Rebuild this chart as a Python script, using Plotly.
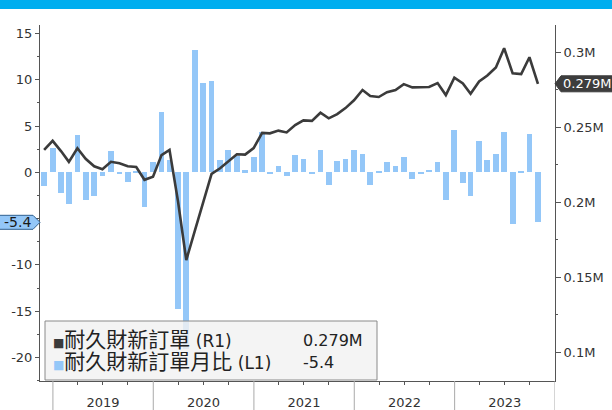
import pandas as pd
import plotly.graph_objects as go

# ---------------- data ----------------
start_month = "2018-11-01"
n_months = 60
months = pd.date_range(start_month, periods=n_months, freq="MS") + pd.offsets.MonthEnd(0)

# 耐久財新訂單月比 (%), Nov-2018 .. Oct-2023
mom_pct = [-1.5, 2.6,
           -2.2, -3.4, 4.0, -3.0, -2.6, -0.4, 2.3, -0.2, -1.0, 0.1, -3.7, 1.1,
           6.5, 1.3, -14.8, -19.1, 13.2, 9.6, 9.9, 1.3, 2.4, 1.8, 0.2, 1.7,
           4.3, -0.1, 0.7, -0.4, 1.9, 1.4, -0.1, 2.4, -1.4, 1.2, 1.4, 2.4,
           2.0, -1.4, 0.1, 1.1, 0.7, 1.7, -0.7, -0.1, 0.3, 1.1, -3.0, 4.6,
           -1.2, -2.6, 3.4, 1.3, 2.0, 4.4, -5.6, 0.1, 4.1, -5.4]

# 耐久財新訂單 (millions, shown as "M")
orders_m = [0.235, 0.241,
            0.234, 0.227, 0.236, 0.229, 0.224, 0.222, 0.227, 0.226, 0.224, 0.2235, 0.215, 0.217,
            0.2315, 0.235, 0.2005, 0.1615, 0.181, 0.200, 0.219, 0.2227, 0.2276, 0.232, 0.2318, 0.2362,
            0.2463, 0.246, 0.2478, 0.2466, 0.2515, 0.2546, 0.2543, 0.2597, 0.256, 0.2588, 0.2628, 0.268,
            0.2749, 0.2709, 0.2702, 0.2734, 0.2749, 0.2788, 0.2766, 0.2765, 0.2769, 0.2795, 0.2715, 0.2831,
            0.2793, 0.2724, 0.2806, 0.2845, 0.2899, 0.3027, 0.286, 0.2855, 0.2967, 0.279]

year_starts = ["2019-01-01", "2020-01-01", "2021-01-01", "2022-01-01", "2023-01-01", "2024-01-01"]

left_tickvals = [-20, -15, -10, -5, 0, 5, 10, 15]
left_ticktext = ["-20", "-15", "-10", "", "0", "5", "10", "15"]   # -5 hidden under the value tag

name_orders = "耐久財新訂單"
name_mom = "耐久財新訂單月比"
last_orders_label = "0.279M"
last_mom_label = "-5.4"

# ---------------- style ----------------
FONT = "DejaVu Sans, Verdana, Noto Sans CJK TC, sans-serif"
BAR_C = "#94c7f8"
LINE_C = "#3b3b3b"
AXIS_C = "#555555"
TXT_C = "#333333"

W, H = 612, 410
ML, MR, MT, MB = 40, 57, 25, 29
PW, PH = W - ML - MR, H - MT - MB

def px_x(px):
    return (px - ML) / PW

def px_y(py):
    return (H - MB - py) / PH

fig = go.Figure()
fig.add_trace(go.Bar(x=months, y=mom_pct, marker=dict(color=BAR_C, line=dict(width=0)),
                     width=21 * 86400000, name=name_mom, yaxis="y", showlegend=False))
fig.add_trace(go.Scatter(x=months, y=orders_m, mode="lines", line=dict(color=LINE_C, width=2.6),
                         name=name_orders, yaxis="y2", showlegend=False))

shapes = []
# top band
shapes.append(dict(type="rect", xref="paper", yref="paper", x0=px_x(0), x1=px_x(W),
                   y0=px_y(9), y1=px_y(0), fillcolor="#00aeef", line=dict(width=0), layer="above"))
# year separators below the axis
for ys in year_starts:
    shapes.append(dict(type="line", xref="x", yref="paper", x0=ys, x1=ys,
                       y0=0, y1=px_y(H), line=dict(color="#aaaaaa", width=1)))
# legend box
shapes.append(dict(type="rect", xref="paper", yref="paper", x0=px_x(45), x1=px_x(377),
                   y0=px_y(380), y1=px_y(321), fillcolor="rgba(242,242,242,0.82)",
                   line=dict(color="#8a8a8a", width=1), layer="above"))
# left value tag
shapes.append(dict(type="path", xref="paper", yref="y", xsizemode="pixel", ysizemode="pixel",
                   xanchor=0, yanchor=mom_pct[-1],
                   path="M -41,-7 L -7,-7 L 0,0 L -7,7 L -41,7 Z",
                   fillcolor=BAR_C, line=dict(color="#2f5f8f", width=1), layer="above"))
# right value tag
shapes.append(dict(type="path", xref="paper", yref="y2", xsizemode="pixel", ysizemode="pixel",
                   xanchor=1, yanchor=orders_m[-1],
                   path="M 0,0 L 6,-8 L 70,-8 L 70,8 L 6,8 Z",
                   fillcolor="#3d3d3d", line=dict(color="#3d3d3d", width=1), layer="above"))

annotations = []
annotations.append(dict(xref="paper", yref="y", x=0, y=mom_pct[-1], xanchor="right", yanchor="middle",
                        xshift=-7, text=last_mom_label, showarrow=False,
                        font=dict(family=FONT, size=14, color="#1a1a1a")))
annotations.append(dict(xref="paper", yref="y2", x=1, y=orders_m[-1], xanchor="left", yanchor="middle",
                        xshift=6, text=last_orders_label, showarrow=False,
                        font=dict(family=FONT, size=13, color="#ffffff")))

def leg_line(py, color, name, tag, value):
    annotations.append(dict(xref="paper", yref="paper", x=px_x(51), y=px_y(py), xanchor="left",
                            yanchor="middle", showarrow=False,
                            text=(f"<span style='color:{color};font-size:12px'>■</span>"
                                  f"<span style='font-size:21px'>{name}</span> ({tag})"),
                            font=dict(family=FONT, size=17, color="#222222")))
    annotations.append(dict(xref="paper", yref="paper", x=px_x(301), y=px_y(py), xanchor="left",
                            yanchor="middle", showarrow=False, text=value,
                            font=dict(family=FONT, size=16, color="#222222")))

leg_line(340, LINE_C, name_orders, "R1", last_orders_label)
leg_line(362, BAR_C, name_mom, "L1", last_mom_label)

fig.update_layout(
    width=W, height=H, autosize=False,
    margin=dict(l=ML, r=MR, t=MT, b=MB, pad=0, autoexpand=False),
    paper_bgcolor="white", plot_bgcolor="white",
    font=dict(family=FONT, size=13, color=TXT_C),
    bargap=0, showlegend=False,
    shapes=shapes, annotations=annotations,
    xaxis=dict(type="date", range=["2018-11-15", "2024-01-01"], showline=True, linecolor=AXIS_C,
               linewidth=1, showgrid=False, zeroline=False, ticks="", dtick="M12",
               tick0="2019-01-01", tickformat="%Y", ticklabelmode="period", automargin=False,
               ticklabelstandoff=9, tickfont=dict(size=13, color=TXT_C),
               minor=dict(ticks="outside", ticklen=3, dtick="M3", tick0="2019-01-01",
                          tickcolor=AXIS_C, showgrid=False)),
    yaxis=dict(range=[-22.54, 15.91], tickmode="array", tickvals=left_tickvals,
               ticktext=left_ticktext, ticks="outside", ticklen=4, automargin=False,
               tickcolor=AXIS_C, showline=True, linecolor=AXIS_C, showgrid=False, zeroline=False,
               tickfont=dict(size=13, color=TXT_C),
               minor=dict(ticks="outside", ticklen=2, dtick=2.5, tickcolor=AXIS_C, showgrid=False)),
    yaxis2=dict(overlaying="y", side="right", range=[0.0809, 0.3182], tick0=0, dtick=0.05,
                tickformat=".2~f", ticksuffix="M", ticks="outside", ticklen=5, tickcolor=AXIS_C,
                showline=True, linecolor=AXIS_C, showgrid=False, zeroline=False, automargin=False,
                tickfont=dict(size=13, color=TXT_C),
                minor=dict(ticks="outside", ticklen=2, dtick=0.025, tickcolor=AXIS_C, showgrid=False)),
)

fig.write_html("out.html")
